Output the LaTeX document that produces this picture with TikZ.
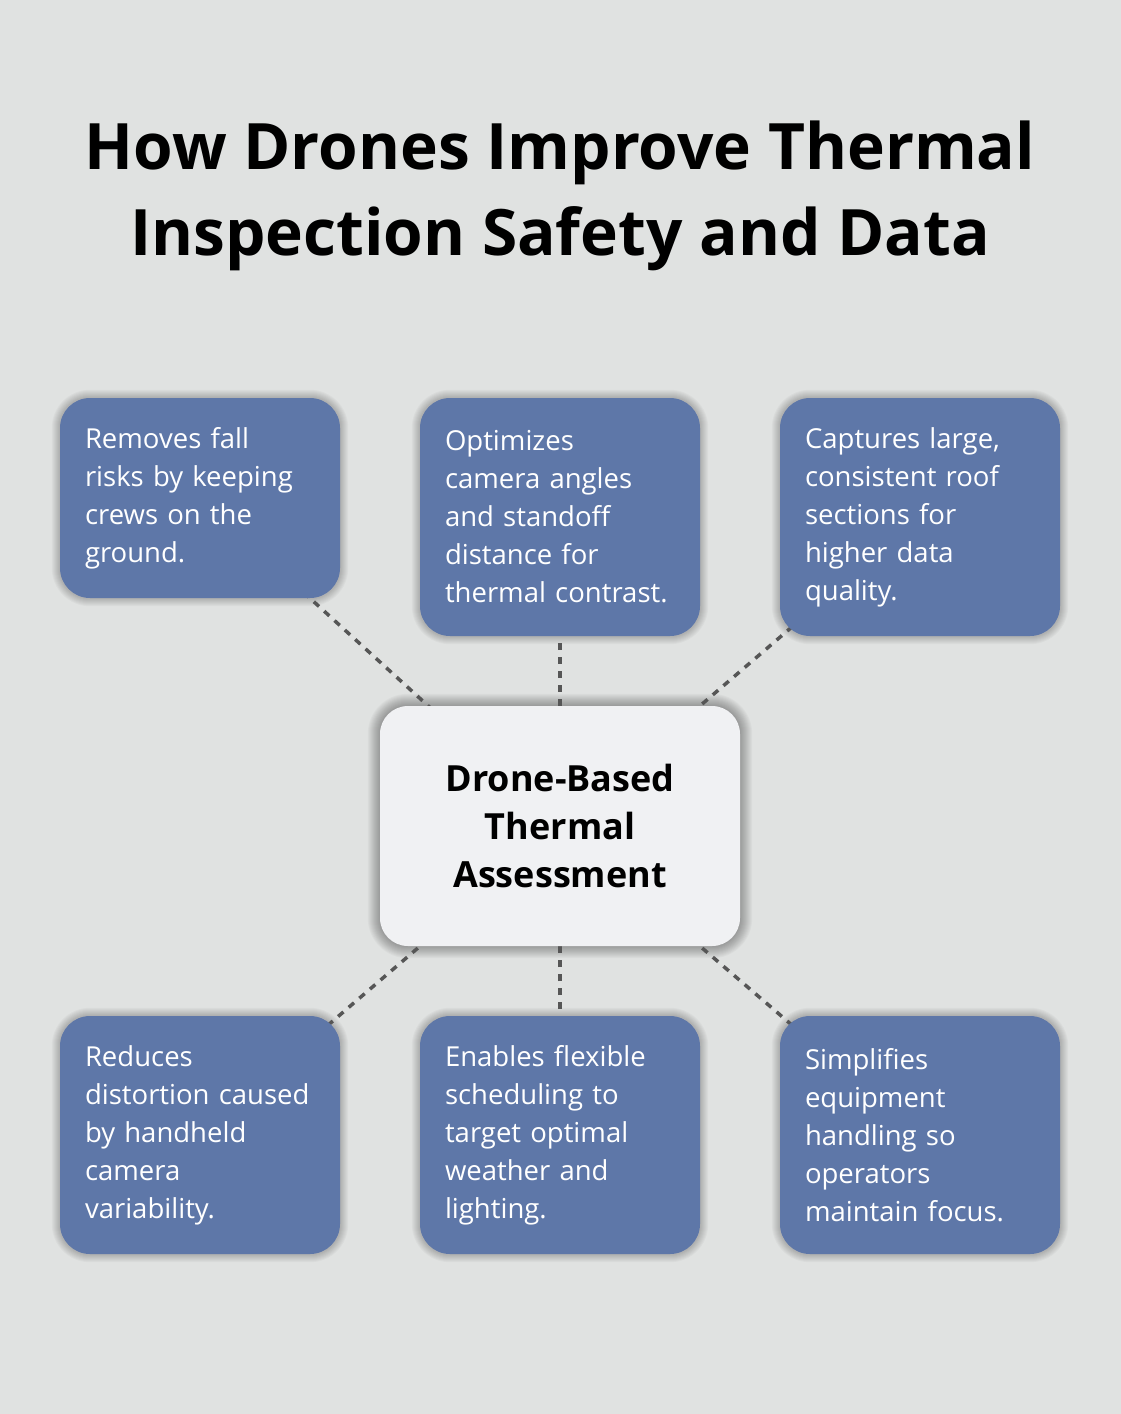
\documentclass[tikz,border=0pt]{standalone}
\usepackage{fontspec}
\setmainfont{Open Sans}
\definecolor{bgGray}{HTML}{E0E2E1}
\definecolor{boxBlue}{HTML}{5E77A8}
\definecolor{hubFill}{HTML}{F0F1F3}
\definecolor{linkGray}{HTML}{565656}
\pgfdeclarelayer{back}
\pgfdeclarelayer{shade}
\pgfdeclarelayer{wires}
\pgfsetlayers{back,shade,wires,main}

\begin{document}
\begin{tikzpicture}[x=1pt, y=-1pt,
  item/.style={fill=boxBlue, rounded corners=30pt, text=white,
    minimum width=280pt, minimum height=238pt, text width=230pt, inner xsep=25pt,
    align=left, font=\fontsize{27.5}{38}\selectfont},
  hub/.style={fill=hubFill, rounded corners=28pt, text=black,
    minimum width=360pt, minimum height=240pt, align=center,
    font=\fontsize{36}{48}\selectfont\bfseries},
  link/.style={draw=linkGray, line width=3.5pt, dash pattern=on 7pt off 7pt},
  soft/.style={fill=black, fill opacity=0.028}]
  \useasboundingbox (0,0) rectangle (1120,1414);
  \begin{pgfonlayer}{back}
    \fill[bgGray] (-5,-5) rectangle (1125,1419);
  \end{pgfonlayer}

  % --- titulo ---
  \node[align=center, font=\fontsize{64}{86}\selectfont\bfseries] (title) at (560,196)
    {How Drones Improve Thermal\\Inspection Safety and Data};

  % --- nodo central ---
  \node[hub] (hub) at (560,826) {Drone-Based\\Thermal\\Assessment};

  % --- fila superior ---
  \node[item, minimum height=200pt] (fall) at (200,498)
    {Removes fall\\risks by keeping\\crews on the\\ground.};
  \node[item] (angles) at (560,517)
    {Optimizes\\camera angles\\and standoff\\distance for\\thermal contrast.};
  \node[item] (roof) at (920,517)
    {Captures large,\\consistent roof\\sections for\\higher data\\quality.};

  % --- fila inferior ---
  \node[item] (distort) at (200,1135)
    {Reduces\\distortion caused\\by handheld\\camera\\variability.};
  \node[item] (sched) at (560,1135)
    {Enables flexible\\scheduling to\\target optimal\\weather and\\lighting.};
  \node[item] (equip) at (920,1135)
    {Simplifies\\equipment\\handling so\\operators\\maintain focus.};

  % --- sombras ---
  \begin{pgfonlayer}{shade}
    \foreach \n in {fall,angles,roof,distort,sched,equip}
      \foreach \k in {1,...,8}
        \fill[soft, rounded corners=30pt+\k pt, shift={(6,9)}]
          ([xshift=-\k pt, yshift=-\k pt]\n.south west)
          rectangle ([xshift=\k pt, yshift=\k pt]\n.north east);
    \foreach \k in {1,...,12}
      \fill[soft, rounded corners=28pt+\k pt, shift={(3,6)}]
        ([xshift=-\k pt, yshift=-\k pt]hub.south west)
        rectangle ([xshift=\k pt, yshift=\k pt]hub.north east);
  \end{pgfonlayer}

  % --- conectores ---
  \begin{pgfonlayer}{wires}
    \foreach \n in {fall,angles,roof,distort,sched,equip}
      \draw[link] (\n.center) -- (hub.center);
  \end{pgfonlayer}
\end{tikzpicture}
\end{document}
